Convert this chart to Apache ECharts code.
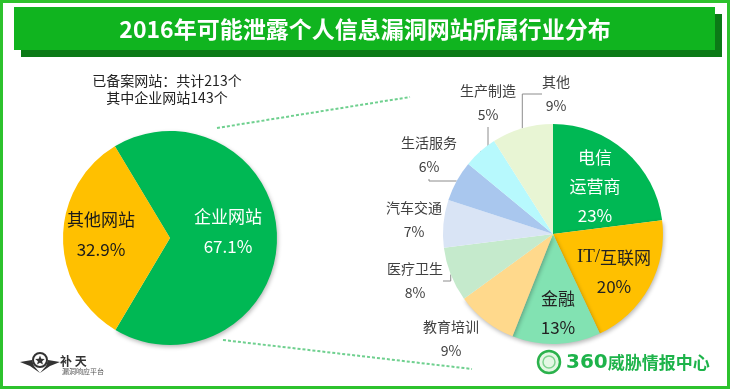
<!DOCTYPE html>
<html><head><meta charset="utf-8">
<script src="https://cdn.jsdelivr.net/npm/echarts@6/dist/echarts.min.js"></script>
<style>html,body{margin:0;padding:0;background:#fff}#c{width:730px;height:389px}</style>
</head><body><div id="c"></div>
<script>
// ---------- data ----------
const TITLE = '2016年可能泄露个人信息漏洞网站所属行业分布';
const siteCategories = ['企业网站', '其他网站'];
const siteCounts = [143, 70];
const industryCategories = ['电信运营商', 'IT/互联网', '金融', '教育培训', '医疗卫生', '汽车交通', '生活服务', '生产制造', '其他'];
const industryLabelNames = ['电信\n运营商', '{s|IT/}互联网', '金融', '教育培训', '医疗卫生', '汽车交通', '生活服务', '生产制造', '其他'];
const industryShares = [23, 20, 13, 9, 8, 7, 6, 5, 9];

// ---------- styles / layout ----------
const FONT = "'Noto Sans CJK SC', 'Noto Sans', sans-serif";
const SITE_COLORS = ['#00B854', '#FFC000'];
const SITE_LABEL_COLORS = ['#ffffff', '#1a1a1a'];
const SITE_SHADOW = [true, false];
const IND_COLORS = ['#00B854', '#FFC000', '#82E2B2', '#FFD98C', '#C5EACC', '#D9E4F5', '#A9C7EE', '#B7F9FD', '#E8F5D4'];
const IND_INSIDE = 3; // first three labels drawn inside slices
const IND_LABEL_COLORS = ['#ffffff', '#222222', '#222222'];
const IND_LINE_SHOW = [false, false, false, false, true, false, true, true, true];
const IND_SHADOW = [false, true, true, true, false, false, false, false, false];
const LEFT_LABEL_POS = [[228, 232], [101, 235]];
const RIGHT_LABEL_POS = [[595, 187], [614, 272], [558, 313], [451, 339], [415, 281], [414, 220], [429, 155], [488, 103], [556, 94]];
const SHADOW = {shadowBlur: 4, shadowOffsetX: 1, shadowOffsetY: 2, shadowColor: 'rgba(0,0,0,0.28)'};

const total = siteCounts.reduce((a, b) => a + b, 0);
const chart = echarts.init(document.getElementById('c'), null, {renderer: 'canvas'});

function starPoints(cx, cy, R, r) {
  const pts = [];
  for (let i = 0; i < 10; i++) {
    const a = -Math.PI / 2 + i * Math.PI / 5;
    const rr = i % 2 === 0 ? R : r;
    pts.push([cx + rr * Math.cos(a), cy + rr * Math.sin(a)]);
  }
  return pts;
}

const option = {
  animation: false,
  backgroundColor: '#ffffff',
  graphic: [
    {type: 'rect', z: -10, shape: {x: 1.5, y: 1.5, width: 727, height: 386}, style: {fill: 'none', stroke: '#2DC22D', lineWidth: 3}},
    {type: 'rect', z: -9, shape: {x: 21, y: 14, width: 701, height: 43}, style: {fill: '#0B7A16'}},
    {type: 'rect', z: -8, shape: {x: 14, y: 7, width: 701, height: 43}, style: {fill: '#10B41F'}},
    {type: 'text', z: 5, x: 365, y: 29, style: {text: TITLE, fill: '#ffffff', font: 'bold 23px ' + FONT, textAlign: 'center', textVerticalAlign: 'middle'}},
    {type: 'text', z: 5, x: 167, y: 89, style: {
      text: '已备案网站：共计' + total + '个\n其中企业网站' + siteCounts[0] + '个',
      fill: '#222222', font: '14px ' + FONT, textAlign: 'center', textVerticalAlign: 'middle', lineHeight: 17}},
    {type: 'line', z: 1, shape: {x1: 217, y1: 128, x2: 410, y2: 97}, style: {stroke: '#6FD08F', lineWidth: 2, lineDash: [3, 2]}},
    {type: 'line', z: 1, shape: {x1: 223, y1: 340, x2: 472, y2: 369}, style: {stroke: '#6FD08F', lineWidth: 2, lineDash: [3, 2]}},
    // 补天 logo
    {type: 'circle', z: 5, shape: {cx: 40, cy: 360, r: 7}, style: {fill: '#ffffff', stroke: '#333333', lineWidth: 2}},
    {type: 'polygon', z: 6, shape: {points: starPoints(40, 360.5, 5, 2.2)}, style: {fill: '#333333'}},
    {type: 'polygon', z: 5, shape: {points: [[20, 362], [32, 360], [34, 366], [40, 373], [30, 366]]}, style: {fill: '#333333'}},
    {type: 'polygon', z: 5, shape: {points: [[60, 362], [48, 360], [46, 366], [40, 373], [50, 366]]}, style: {fill: '#333333'}},
    {type: 'text', z: 5, x: 60, y: 361, style: {text: '补 天', fill: '#333333', font: 'bold 12px ' + FONT, textAlign: 'left', textVerticalAlign: 'middle'}},
    {type: 'text', z: 5, x: 62, y: 371, style: {text: '漏洞响应平台', fill: '#555555', font: '7px ' + FONT, textAlign: 'left', textVerticalAlign: 'middle'}},
    // 360 logo
    {type: 'circle', z: 5, shape: {cx: 549, cy: 362, r: 11}, style: {fill: '#E4F7E4', stroke: '#2BB24C', lineWidth: 2.5}},
    {type: 'circle', z: 6, shape: {cx: 549, cy: 362, r: 6}, style: {fill: 'none', stroke: '#7FD38F', lineWidth: 1.5}},
    {type: 'text', z: 5, x: 566, y: 363, style: {
      text: '{n|360}威胁情报中心', fill: '#1DB34A', font: 'bold 17px ' + FONT, textAlign: 'left', textVerticalAlign: 'middle',
      rich: {n: {fontSize: 20, fontWeight: 'bold', fontFamily: 'DejaVu Sans', fill: '#1DB34A', color: '#1DB34A'}}}}
  ],
  series: [
    {
      type: 'pie',
      center: [170, 238],
      radius: 107,
      startAngle: 121,
      clockwise: true,
      avoidLabelOverlap: false,
      emphasis: {disabled: true},
      itemStyle: {borderWidth: 0},
      label: {show: true, position: 'inside', fontFamily: FONT, fontSize: 17, lineHeight: 30,
        formatter: p => p.name + '\n' + (p.value / total * 100).toFixed(1) + '%'},
      labelLine: {show: false},
      labelLayout: p => ({x: LEFT_LABEL_POS[p.dataIndex][0], y: LEFT_LABEL_POS[p.dataIndex][1], align: 'center', verticalAlign: 'middle'}),
      data: siteCategories.map((n, i) => ({
        name: n, value: siteCounts[i],
        itemStyle: Object.assign({color: SITE_COLORS[i]}, SITE_SHADOW[i] ? SHADOW : {}),
        label: {color: SITE_LABEL_COLORS[i]}
      }))
    },
    {
      type: 'pie',
      center: [553, 234],
      radius: 110,
      startAngle: 90,
      clockwise: true,
      avoidLabelOverlap: false,
      emphasis: {disabled: true},
      itemStyle: {borderWidth: 0},
      label: {show: true, fontFamily: FONT},
      labelLine: {show: true, lineStyle: {color: '#8c8c8c', width: 1}},
      labelLayout: p => ({x: RIGHT_LABEL_POS[p.dataIndex][0], y: RIGHT_LABEL_POS[p.dataIndex][1], align: 'center', verticalAlign: 'middle'}),
      data: industryCategories.map((n, i) => {
        const inside = i < IND_INSIDE;
        return {
          name: n, value: industryShares[i],
          itemStyle: Object.assign({color: IND_COLORS[i]}, IND_SHADOW[i] ? SHADOW : {}),
          labelLine: {show: IND_LINE_SHOW[i]},
          label: inside ? {
            position: 'inside', color: IND_LABEL_COLORS[i], fontSize: 17, lineHeight: 29,
            formatter: industryLabelNames[i] + '\n' + industryShares[i] + '%',
            rich: {s: {fontFamily: "'Liberation Serif', serif", fontSize: 19, lineHeight: 29, color: IND_LABEL_COLORS[i]}}
          } : {
            position: 'outside', color: '#404040', fontSize: 14, lineHeight: 24,
            formatter: industryLabelNames[i] + '\n' + industryShares[i] + '%'
          }
        };
      })
    }
  ]
};
chart.setOption(option);
</script>
</body></html>
